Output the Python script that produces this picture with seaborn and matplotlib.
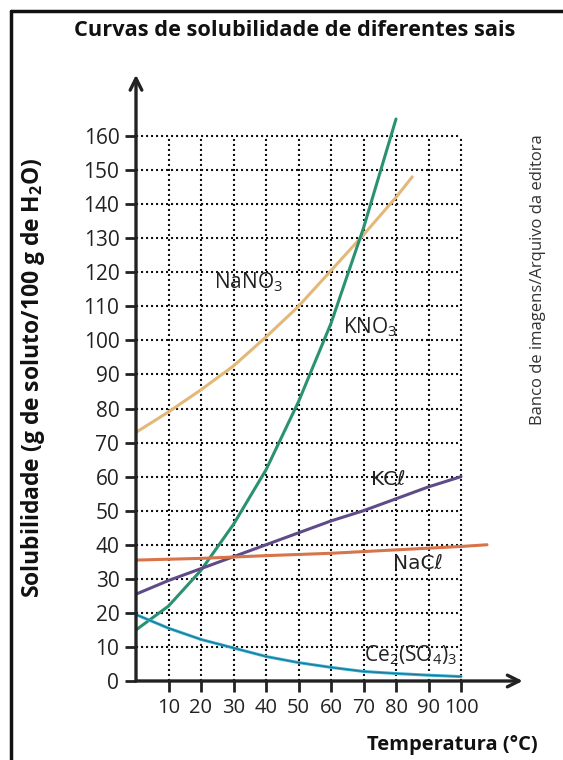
import matplotlib
matplotlib.use("Agg")
import matplotlib.pyplot as plt
import seaborn as sns
import pandas as pd
from matplotlib.lines import Line2D

# ---------------- data ----------------
temps = [0, 10, 20, 30, 40, 50, 60, 70, 80, 90, 100]
nano3_t = [0, 10, 20, 30, 40, 50, 60, 70, 80, 85]
nano3 = [73, 79, 85.5, 92.5, 101, 110, 120.5, 131, 142, 148]
kno3_t = [0, 10, 20, 30, 40, 50, 60, 70, 80]
kno3 = [15, 22, 32.5, 46, 62, 82, 105, 133, 165]
kcl = [25.5, 29.5, 33, 36.5, 40, 43.5, 47, 50, 53.5, 57, 60]
nacl_t = [0, 20, 40, 60, 80, 100, 108]
nacl = [35.5, 36, 36.8, 37.5, 38.5, 39.5, 40]
ce_t = [0, 10, 20, 30, 40, 50, 60, 70, 80, 90, 100]
ce = [19.5, 15.5, 12.2, 9.7, 7.2, 5.4, 4, 2.8, 2.2, 1.7, 1.3]

x_ticks = [10, 20, 30, 40, 50, 60, 70, 80, 90, 100]
y_ticks = [0, 10, 20, 30, 40, 50, 60, 70, 80, 90, 100, 110, 120, 130, 140, 150, 160]

salts = ["NaNO3", "KNO3", "KCl", "NaCl", "Ce2(SO4)3"]
colors = ["#e3b878", "#2a9270", "#5e4b87", "#d8744a", "#3cb4d4"]

df = pd.concat([
    pd.DataFrame({"T": nano3_t, "S": nano3, "sal": "NaNO3"}),
    pd.DataFrame({"T": kno3_t, "S": kno3, "sal": "KNO3"}),
    pd.DataFrame({"T": temps, "S": kcl, "sal": "KCl"}),
    pd.DataFrame({"T": nacl_t, "S": nacl, "sal": "NaCl"}),
    pd.DataFrame({"T": ce_t, "S": ce, "sal": "Ce2(SO4)3"}),
], ignore_index=True)

sns.set_theme(style="white")
plt.rcParams["font.family"] = ["Open Sans", "DejaVu Sans"]
plt.rcParams["mathtext.fontset"] = "custom"
plt.rcParams["mathtext.rm"] = "Open Sans"
plt.rcParams["mathtext.bf"] = "Open Sans:bold"

fig = plt.figure(figsize=(5.63, 7.6), dpi=100)
fig.patch.set_facecolor("white")

# axes: x 0 at px 136, 3.25 px/unit ; y 0 at px 681, 3.406 px/unit
x0, xpu = 136, 3.25
y0, ypu = 681, 3.406
xmax, ymax = 119, 178
ax = fig.add_axes([x0 / 563, (760 - y0) / 760, xmax * xpu / 563, ymax * ypu / 760])
ax.set_xlim(0, xmax)
ax.set_ylim(0, ymax)
ax.set_facecolor("white")

# dotted grid
ax.vlines(x_ticks, 0, 160, colors="#111111", linestyles=(0, (1, 1.4)), lw=1.5, zorder=1)
ax.hlines(y_ticks[1:], 0, 100, colors="#111111", linestyles=(0, (1, 1.4)), lw=1.5, zorder=1)

sns.lineplot(data=df, x="T", y="S", hue="sal", hue_order=salts, palette=colors,
             sort=False, estimator=None, lw=2.2, legend=False, ax=ax, zorder=3)
# darker core for Ce2(SO4)3
ax.plot(ce_t, ce, color="#1d7a9a", lw=1.0, zorder=4)

for s in ["top", "right", "left", "bottom"]:
    ax.spines[s].set_visible(False)

# axes with arrows
ax.annotate("", xy=(xmax, 0), xytext=(0, 0), xycoords="data",
            arrowprops=dict(arrowstyle="->,head_length=0.7,head_width=0.35", lw=2.4, color="#222222",
                            shrinkA=0, shrinkB=0), annotation_clip=False, zorder=5)
ax.annotate("", xy=(0, ymax), xytext=(0, 0), xycoords="data",
            arrowprops=dict(arrowstyle="->,head_length=0.7,head_width=0.35", lw=2.4, color="#222222",
                            shrinkA=0, shrinkB=0), annotation_clip=False, zorder=5)

ax.set_xticks(x_ticks)
ax.set_xticklabels([str(v) for v in x_ticks])
ax.set_yticks(y_ticks)
ax.set_yticklabels([str(v) for v in y_ticks])
ax.tick_params(axis="both", direction="out", length=8, width=2, color="#222222",
               bottom=True, left=True, pad=4)
ax.tick_params(axis="x", labelsize=14.5, labelcolor="#222222")
ax.tick_params(axis="y", labelsize=15, labelcolor="#222222")
ax.set_xlabel("")
ax.set_ylabel("")

# curve labels
lab_kw = dict(fontsize=15, color="#222222", va="center", ha="left", zorder=6)
ax.text(24.0, 117, "NaNO$_3$", **lab_kw)
ax.text(63.8, 104, "KNO$_3$", **lab_kw)
ax.text(72.3, 59.3, "KC\u2113", family=["DejaVu Sans"], fontsize=14.5, color="#222222",
        va="center", ha="left", zorder=6)
ax.text(79.2, 34.6, "NaC\u2113", family=["DejaVu Sans"], fontsize=14.5, color="#222222",
        va="center", ha="left", zorder=6)
ax.text(70.0, 7.6, "Ce$_2$(SO$_4$)$_3$", **lab_kw)

# titles / labels
fig.text(295 / 563, 1 - 31 / 760, "Curvas de solubilidade de diferentes sais",
         fontsize=15.7, fontweight="bold", ha="center", va="center", color="#111111")
fig.text(33 / 563, 1 - 378 / 760, "Solubilidade (g de soluto/100 g de H$_\\mathbf{2}$O)",
         fontsize=16.5, fontweight="bold", rotation=90, ha="center", va="center", color="#111111")
fig.text(452 / 563, 1 - 745 / 760, "Temperatura (°C)",
         fontsize=14.5, fontweight="bold", ha="center", va="center", color="#111111")
fig.text(538 / 563, 1 - 280 / 760, "Banco de imagens/Arquivo da editora",
         fontsize=12, rotation=90, ha="center", va="center", color="#333333")

# outer frame (left and top)
fig.add_artist(Line2D([10.5 / 563, 10.5 / 563], [0, 1 - 11 / 760], color="#111111", lw=2.5))
fig.add_artist(Line2D([10.5 / 563, 1], [1 - 11 / 760, 1 - 11 / 760], color="#111111", lw=2.5))

fig.savefig("out.png", dpi=100, facecolor="white")
